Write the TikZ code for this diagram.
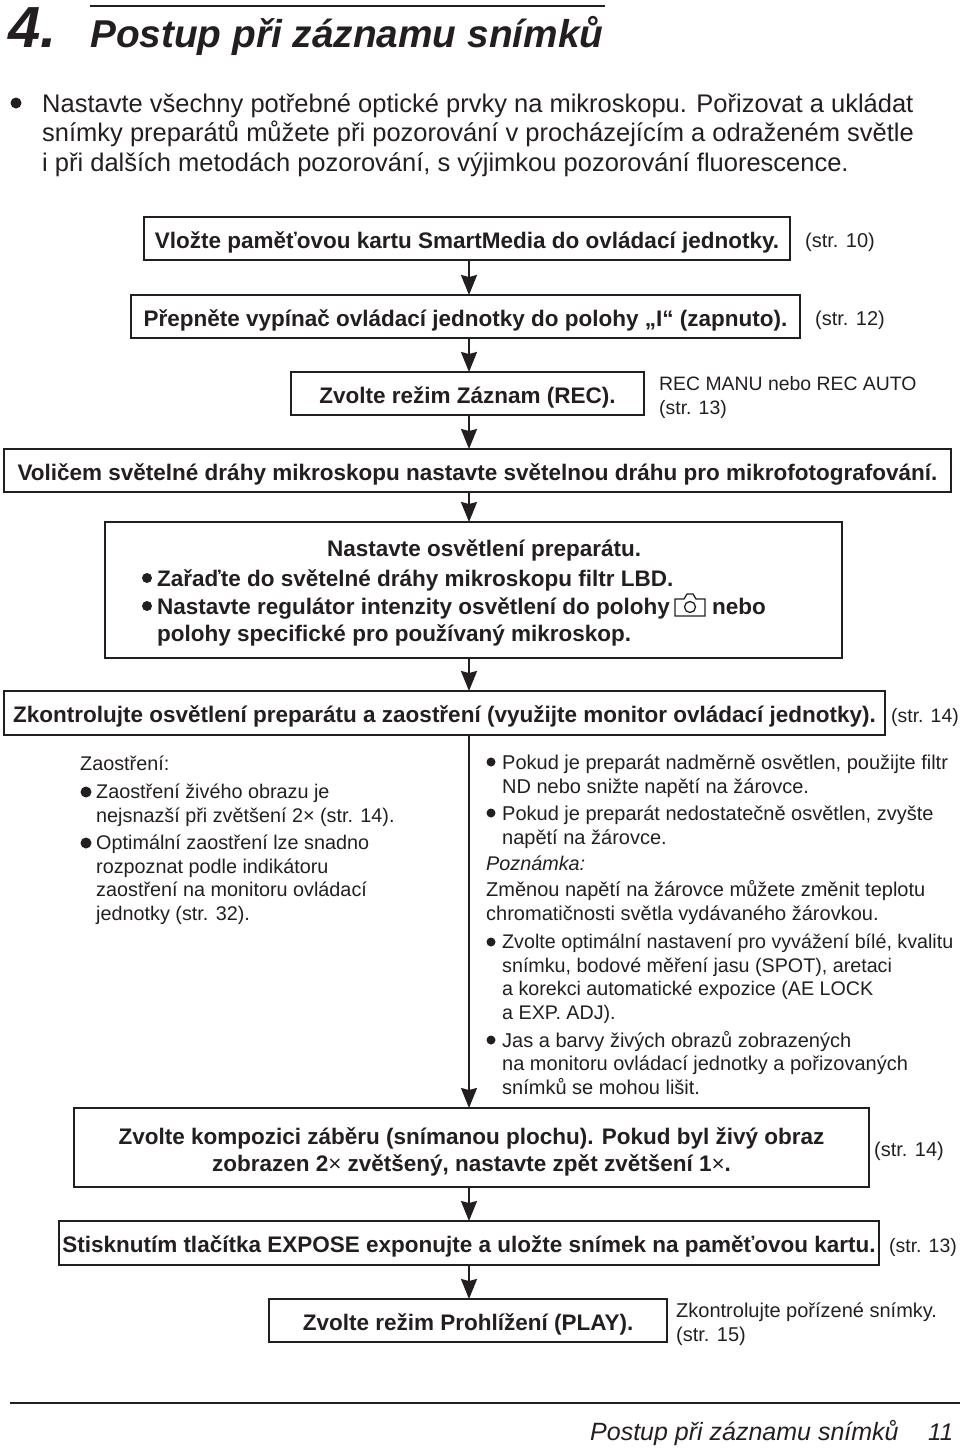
\documentclass[tikz,border=0pt]{standalone}
\usepackage{fontspec}
\setmainfont{Liberation Sans}
\usepackage{tikz}
\usetikzlibrary{arrows.meta, positioning}

\definecolor{ink}{HTML}{231F20}

\begin{document}
\begin{tikzpicture}[
x=1pt,
y=-1pt,
color=ink,
box/.style={
rectangle,
draw=ink,
line width=2pt,
outer sep=0pt,
inner sep=0pt,
align=center,
font=\fontsize{22.5}{27}\selectfont\bfseries
},
onebox/.style={
box,
minimum height=43pt,
text height=21pt,
text depth=2pt
},
arrow/.style={
-{Stealth[length=20pt,width=16pt,inset=2pt]},
line width=2pt,
draw=ink
},
side/.style={
inner sep=0pt,
align=left,
yshift=-4pt,
font=\fontsize{20}{24}\selectfont
},
txt/.style={
anchor=base west,
inner sep=0pt,
align=left,
font=\fontsize{19.8}{23.5}\selectfont
},
rtxt/.style={
txt,
font=\fontsize{20}{23.5}\selectfont
},
bold/.style={
anchor=base west,
inner sep=0pt,
align=left,
font=\fontsize{22.5}{28}\selectfont\bfseries
},
dot/.style={
circle,
fill=ink,
minimum size=11pt,
inner sep=0pt
},
rdot/.style={
dot,
minimum size=9pt
}
]

\useasboundingbox (0,0) rectangle (960,1448);

\coordinate (spine) at (469,0);

% heading
\draw [line width=2pt] (90,6) -- (605,6);
\node (num) [anchor=base west, inner sep=0pt, font=\fontsize{58}{58}\selectfont\bfseries\itshape] at (8,47) {4.};
\node (head) [anchor=base west, inner sep=0pt, font=\fontsize{38.8}{39}\selectfont\bfseries\itshape] at (90,47) {Postup při záznamu snímků};

% intro
\node (introdot) [dot] at (16,103) {};
\node (intro) [anchor=base west, inner sep=0pt, align=left, font=\fontsize{25.5}{29.5}\selectfont] at (42,171)
{Nastavte všechny potřebné optické prvky na mikroskopu. Pořizovat a ukládat\\
snímky preparátů můžete při pozorování v procházejícím a odraženém světle\\
i při dalších metodách pozorování, s výjimkou pozorování fluorescence.};

% flow boxes
\node (a) [onebox, minimum width=646pt] at (467,238.5)
{Vložte paměťovou kartu SmartMedia do ovládací jednotky.};

\node (b) [onebox, minimum width=669pt, below=35pt of a, xshift=-1.5pt]
{Přepněte vypínač ovládací jednotky do polohy „I“ (zapnuto).};

\node (c) [onebox, minimum width=353pt, below=34pt of b, xshift=2pt]
{Zvolte režim Záznam (REC).};

\node (d) [onebox, minimum width=947pt, below=34pt of c, xshift=10pt]
{Voličem světelné dráhy mikroskopu nastavte světelnou dráhu pro mikrofotografování.};

\node (e) [box, minimum width=737pt, minimum height=136pt, below=30pt of d, xshift=-4pt] {};

\node (f) [onebox, minimum width=881pt, minimum height=44pt, below=33pt of e, xshift=-29pt]
{Zkontrolujte osvětlení preparátu a zaostření (využijte monitor ovládací jednotky).};

\node (g) [box, minimum width=795pt, minimum height=79pt, below=373pt of f, xshift=27pt]
{\rule{0pt}{25pt}Zvolte kompozici záběru (snímanou plochu). Pokud byl živý obraz\\
zobrazen 2{\mdseries ×} zvětšený, nastavte zpět zvětšení 1{\mdseries ×}.};

\node (h) [onebox, minimum width=820pt, minimum height=44pt, below=34pt of g, xshift=-2.5pt]
{Stisknutím tlačítka EXPOSE exponujte a uložte snímek na paměťovou kartu.};

\node (i) [onebox, minimum width=398pt, below=34pt of h, xshift=-1pt]
{Zvolte režim Prohlížení (PLAY).};

% text in the light box
\node (etitle) [bold] at (327,556) {Nastavte osvětlení preparátu.};
\node (e1) [bold] at (157,586) {Zařaďte do světelné dráhy mikroskopu filtr LBD.};
\node (e2) [bold] at (157,614) {Nastavte regulátor intenzity osvětlení do polohy};
\node (e3) [bold] at (712,614) {nebo};
\node (e4) [bold] at (157,641) {polohy specifické pro používaný mikroskop.};
\node (edot1) [dot, minimum size=10pt] at (147,578) {};
\node (edot2) [dot, minimum size=10pt] at (147,606) {};

% camera mark
\draw [line width=1.3pt] (675,599) -- (684,599) -- (687,594) -- (693,594) -- (696,599) -- (705,599) -- (705,616) -- (675,616) -- cycle;
\draw [line width=1.3pt] (690,607) circle (5.5);

% page references
\node (sa) [side, right=15pt of a] {(str. 10)};
\node (sb) [side, right=15pt of b] {(str. 12)};
\node (sc) [side, right=15pt of c, font=\fontsize{19.4}{24}\selectfont] {REC MANU nebo REC AUTO\\(str. 13)};
\node (sf) [side, right=6pt of f, font=\fontsize{19.4}{24}\selectfont] {(str. 14)};
\node (sg) [side, right=5pt of g] {(str. 14)};
\node (sh) [side, right=10pt of h, font=\fontsize{19.4}{24}\selectfont] {(str. 13)};
\node (si) [side, right=9pt of i] {Zkontrolujte pořízené snímky.\\(str. 15)};

% left column
\node (lt) [txt] at (80,770) {Zaostření:};
\node (l1) [txt] at (96,822) {Zaostření živého obrazu je\\nejsnazší při zvětšení 2× (str. 14).};
\node (l2) [txt] at (96,920) {Optimální zaostření lze snadno\\rozpoznat podle indikátoru\\zaostření na monitoru ovládací\\jednotky (str. 32).};
\node (ldot1) [dot] at (86,792) {};
\node (ldot2) [dot] at (86,843) {};

% right column
\node (r1) [rtxt] at (502,793) {Pokud je preparát nadměrně osvětlen, použijte filtr\\ND nebo snižte napětí na žárovce.};
\node (r2) [rtxt] at (502,844) {Pokud je preparát nedostatečně osvětlen, zvyšte\\napětí na žárovce.};
\node (r3) [txt, font=\fontsize{19.8}{23.5}\selectfont\itshape] at (486,870) {Poznámka:};
\node (r4) [rtxt] at (486,920) {Změnou napětí na žárovce můžete změnit teplotu\\chromatičnosti světla vydávaného žárovkou.};
\node (r5) [txt, font=\fontsize{19.7}{23.5}\selectfont] at (502,1019) {Zvolte optimální nastavení pro vyvážení bílé, kvalitu\\snímku, bodové měření jasu (SPOT), aretaci\\a korekci automatické expozice (AE LOCK\\a EXP. ADJ).};
\node (r6) [rtxt] at (502,1094) {Jas a barvy živých obrazů zobrazených\\na monitoru ovládací jednotky a pořizovaných\\snímků se mohou lišit.};
\node (rdot1) [rdot] at (491,762) {};
\node (rdot2) [rdot] at (491,813) {};
\node (rdot3) [rdot] at (491,942) {};
\node (rdot4) [rdot] at (491,1040) {};

% footer
\draw [line width=2pt] (10,1403) -- (960,1403);
\node (foot) [anchor=base west, inner sep=0pt, font=\fontsize{25}{25}\selectfont\itshape] at (590,1440) {Postup při záznamu snímků};
\node (page) [anchor=base west, inner sep=0pt, font=\fontsize{24}{24}\selectfont\itshape] at (928,1440) {11};

\draw [arrow] (a.south -| spine) -- (b.north -| spine);
\draw [arrow] (b.south -| spine) -- (c.north -| spine);
\draw [arrow] (c.south -| spine) -- (d.north -| spine);
\draw [arrow] (d.south -| spine) -- (e.north -| spine);
\draw [arrow] (e.south -| spine) -- (f.north -| spine);
\draw [arrow] (f.south -| spine) -- (g.north -| spine);
\draw [arrow] (g.south -| spine) -- (h.north -| spine);
\draw [arrow] (h.south -| spine) -- (i.north -| spine);

\end{tikzpicture}
\end{document}
